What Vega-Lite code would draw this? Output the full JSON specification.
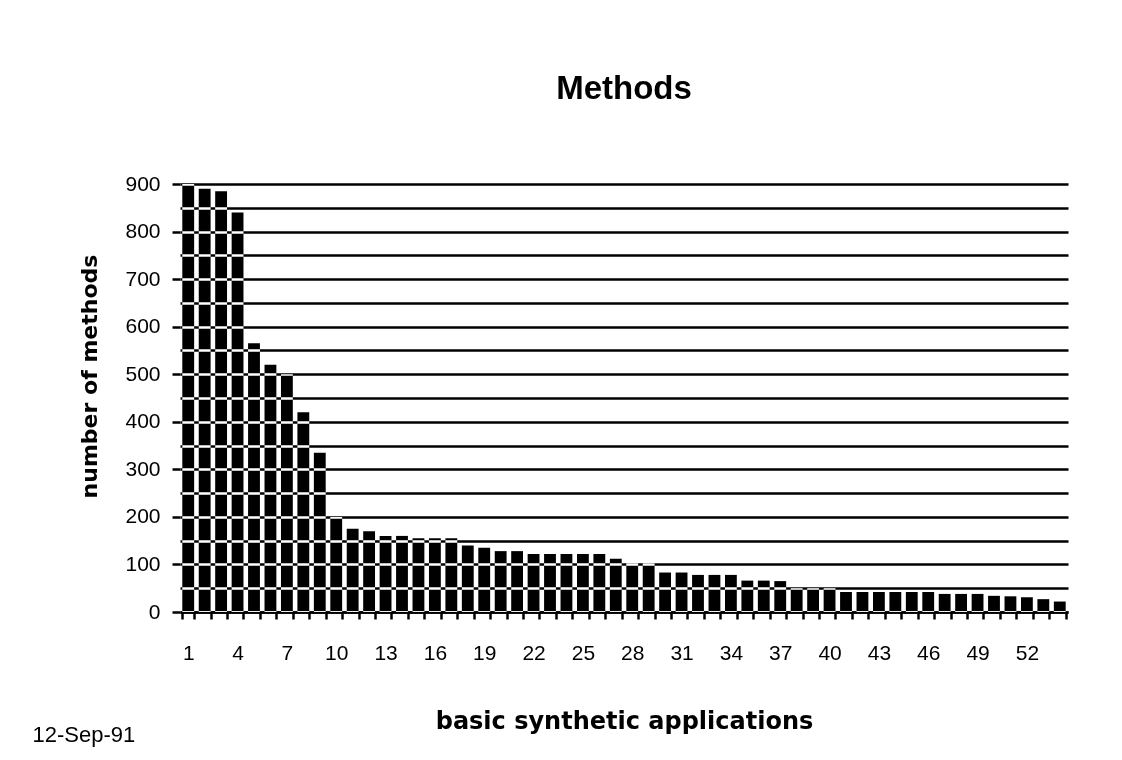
{
  "$schema": "https://vega.github.io/schema/vega-lite/v6.json",
  "width": 888,
  "height": 428,
  "autosize": "none",
  "padding": {"left": 180, "top": 184, "right": 54, "bottom": 148},
  "background": "white",
  "title": {"text": "Methods", "font": "Liberation Sans", "fontSize": 33, "fontWeight": "bold", "color": "black", "anchor": "middle", "frame": "group", "baseline": "alphabetic", "offset": 41},
  "data": {"values": [
    {"app": 1, "methods": 900}, {"app": 2, "methods": 890}, {"app": 3, "methods": 885}, {"app": 4, "methods": 840},
    {"app": 5, "methods": 565}, {"app": 6, "methods": 520}, {"app": 7, "methods": 500}, {"app": 8, "methods": 420},
    {"app": 9, "methods": 335}, {"app": 10, "methods": 200}, {"app": 11, "methods": 175}, {"app": 12, "methods": 170},
    {"app": 13, "methods": 160}, {"app": 14, "methods": 160}, {"app": 15, "methods": 155}, {"app": 16, "methods": 155},
    {"app": 17, "methods": 155}, {"app": 18, "methods": 140}, {"app": 19, "methods": 135}, {"app": 20, "methods": 128},
    {"app": 21, "methods": 128}, {"app": 22, "methods": 122}, {"app": 23, "methods": 122}, {"app": 24, "methods": 122},
    {"app": 25, "methods": 122}, {"app": 26, "methods": 122}, {"app": 27, "methods": 112}, {"app": 28, "methods": 103},
    {"app": 29, "methods": 103}, {"app": 30, "methods": 83}, {"app": 31, "methods": 83}, {"app": 32, "methods": 78},
    {"app": 33, "methods": 78}, {"app": 34, "methods": 78}, {"app": 35, "methods": 66}, {"app": 36, "methods": 66},
    {"app": 37, "methods": 65}, {"app": 38, "methods": 50}, {"app": 39, "methods": 50}, {"app": 40, "methods": 50},
    {"app": 41, "methods": 42}, {"app": 42, "methods": 42}, {"app": 43, "methods": 42}, {"app": 44, "methods": 42},
    {"app": 45, "methods": 42}, {"app": 46, "methods": 42}, {"app": 47, "methods": 38}, {"app": 48, "methods": 38},
    {"app": 49, "methods": 38}, {"app": 50, "methods": 34}, {"app": 51, "methods": 33}, {"app": 52, "methods": 31},
    {"app": 53, "methods": 27}, {"app": 54, "methods": 22}
  ]},
  "layer": [
    {
      "mark": {"type": "bar", "color": "white", "blend": "difference"},
      "encoding": {
        "x": {
          "field": "app", "type": "ordinal",
          "scale": {"paddingInner": 0.28, "paddingOuter": 0.14},
          "axis": {
            "orient": "bottom",
            "title": "basic synthetic applications",
            "labelAngle": 0,
            "labelExpr": "(datum.value - 1) % 3 === 0 ? datum.label : ''",
            "labelOverlap": false,
            "tickBand": "extent",
            "grid": false,
            "domain": true, "domainColor": "black", "domainWidth": 2.5,
            "ticks": true, "tickColor": "black", "tickWidth": 2.5, "tickSize": 7,
            "labelPadding": 23, "labelFont": "Liberation Sans", "labelFontSize": 21, "labelColor": "black",
            "titleFont": "DejaVu Sans", "titleFontWeight": "bold", "titleFontSize": 24, "titleColor": "black",
            "titleX": 444, "titleY": 109, "titleAlign": "center", "titleBaseline": "middle"
          }
        },
        "y": {
          "field": "methods", "type": "quantitative",
          "scale": {"domain": [0, 900], "nice": false},
          "axis": {
            "values": [0, 50, 100, 150, 200, 250, 300, 350, 400, 450, 500, 550, 600, 650, 700, 750, 800, 850, 900],
            "title": "number of methods",
            "grid": true, "gridColor": "black", "gridWidth": 2.5, "gridOpacity": 1,
            "domain": false,
            "ticks": true, "tickColor": "black", "tickWidth": 2.5, "tickSize": 8,
            "tickOpacity": {"condition": {"test": "datum.value % 100 === 0", "value": 1}, "value": 0},
            "labelExpr": "datum.value % 100 === 0 ? datum.label : ''",
            "labelOverlap": false, "labelFlush": false,
            "labelFont": "Liberation Sans", "labelFontSize": 21, "labelColor": "black", "labelPadding": 12,
            "titleFont": "DejaVu Sans", "titleFontWeight": "bold", "titleFontSize": 22, "titleColor": "black",
            "titleX": -91, "titleY": 192, "titleAngle": 270, "titleAlign": "center", "titleBaseline": "middle"
          }
        }
      }
    },
    {
      "mark": {"type": "bar", "opacity": 0},
      "encoding": {
        "x": {
          "field": "app", "type": "ordinal",
          "axis": {
            "orient": "bottom",
            "title": "12-Sep-91",
            "labels": false, "ticks": false, "domain": false, "grid": false,
            "titleFont": "Liberation Sans", "titleFontSize": 22, "titleFontWeight": "normal", "titleColor": "black",
            "titleX": -148, "titleY": 122, "titleAlign": "left", "titleBaseline": "middle"
          }
        }
      }
    }
  ],
  "resolve": {"axis": {"x": "independent"}},
  "config": {"view": {"stroke": null}}
}
